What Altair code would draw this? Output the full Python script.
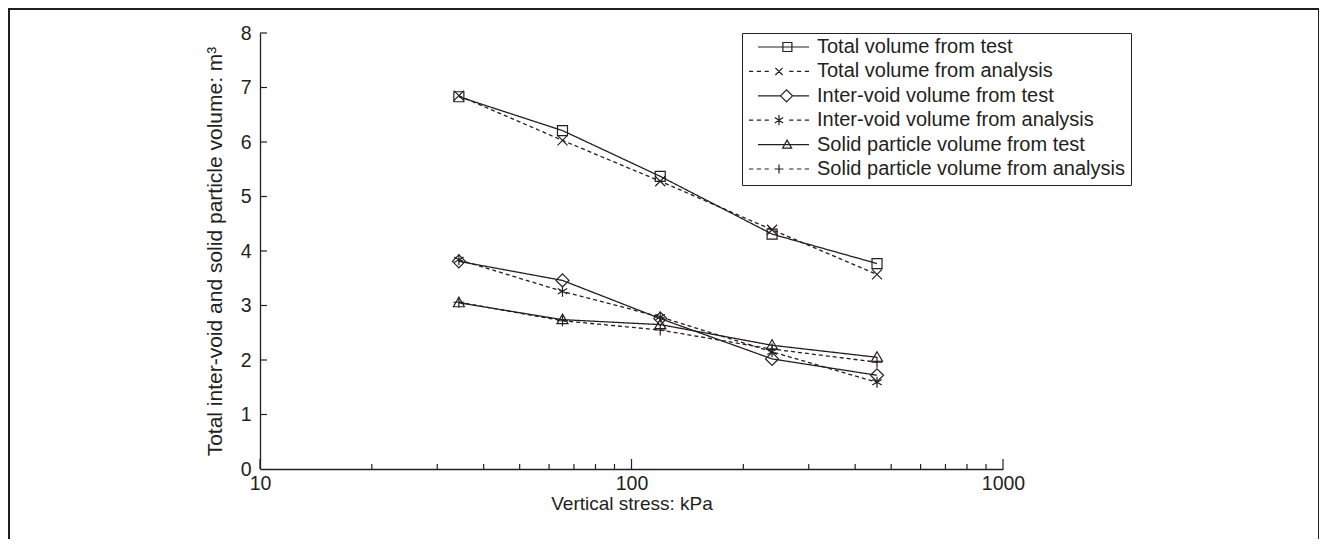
import altair as alt
import pandas as pd

# ---------------- data ----------------
stress = [34.3, 65.2, 119.5, 239, 458]
total_test = [6.83, 6.21, 5.37, 4.31, 3.77]
total_analysis = [6.85, 6.03, 5.28, 4.39, 3.57]
inter_test = [3.81, 3.46, 2.76, 2.02, 1.72]
inter_analysis = [3.84, 3.26, 2.79, 2.15, 1.59]
solid_test = [3.05, 2.74, 2.65, 2.27, 2.05]
solid_analysis = [3.06, 2.72, 2.55, 2.20, 1.96]

series_names = [
    "Total volume from test",
    "Total volume from analysis",
    "Inter-void volume from test",
    "Inter-void volume from analysis",
    "Solid particle volume from test",
    "Solid particle volume from analysis",
]
series_values = [total_test, total_analysis, inter_test, inter_analysis, solid_test, solid_analysis]

x_major_ticks = [10, 100, 1000]
x_minor_ticks = [20, 30, 40, 50, 60, 70, 80, 90, 200, 300, 400, 500, 600, 700, 800, 900]
y_ticks = [1, 2, 3, 4, 5, 6, 7, 8]
y_labels = [0, 1, 2, 3, 4, 5, 6, 7, 8]

x_title = "Vertical stress: kPa"
y_title = "Total inter-void and solid particle volume: m\u00b3"

# ---------------- styles ----------------
W, H = 743, 436
FONT = "Liberation Sans"
TXT = "#231f20"
INK = "#231f20"
FS = 19.5

solid = [1, 0]
dash = [4, 3]
dashes = [solid, dash, solid, dash, solid, dash]

# plot markers (size 100 -> 5 px per unit)
m_square = "M-1,-1H1V1H-1Z"
m_x = "M-1,-1L1,1M-1,1L1,-1"
m_diamond = "M-1.3,0L0,-1.3L1.3,0L0,1.3Z"
m_star = "M0,-1.1V1.1M-0.95,-0.55L0.95,0.55M-0.95,0.55L0.95,-0.55"
m_tri = "M0,-1.1L1.1,0.8L-1.1,0.8Z"
m_plus = "M-1.1,0H1.1M0,-1.1V1.1"
marker_paths = [m_square, m_x, m_diamond, m_star, m_tri, m_plus]

# legend symbols (size 3600 -> 30 px per unit)
solid_line = "M-0.7,0H1"
dash_line = "M-1,0H-0.86M-0.74,0H-0.6M-0.48,0H-0.34M0.34,0H0.48M0.6,0H0.74M0.86,0H1"
l_square = solid_line + "M0.13,-0.15H0.43V0.15H0.13Z"
l_x = dash_line + "M-0.12,-0.12L0.12,0.12M-0.12,0.12L0.12,-0.12"
l_diamond = "M-0.7,0H0.05M0.45,0H1M0.05,0L0.25,-0.2L0.45,0L0.25,0.2Z"
l_star = dash_line + "M0,-0.17V0.17M-0.14,-0.09L0.14,0.09M-0.14,0.09L0.14,-0.09"
l_tri = "M-0.7,0H1M0.12,0.12L0.27,-0.15L0.42,0.12Z"
l_plus = dash_line + "M-0.15,0H0.15M0,-0.15V0.15"
legend_paths = [l_square, l_x, l_diamond, l_star, l_tri, l_plus]

rows = []
for name, vals in zip(series_names, series_values):
    for s, v in zip(stress, vals):
        rows.append({"series": name, "stress": s, "volume": v})
df = pd.DataFrame(rows)

xscale = alt.Scale(type="log", domain=[10, 1000], nice=False)
yscale = alt.Scale(domain=[0, 8], nice=False, zero=False)

X = alt.X(
    "stress:Q",
    scale=xscale,
    axis=alt.Axis(
        values=x_major_ticks, format="d", title=x_title, ticks=False, tickSize=0,
        labelPadding=5, titlePadding=2, titleFontSize=19, labelFlush=False, labelOverlap=False,
        grid=False, domainColor=INK, domainWidth=1.3,
    ),
)
Y = alt.Y(
    "volume:Q",
    scale=yscale,
    axis=alt.Axis(
        values=y_labels, format="d", title=y_title, ticks=False, tickSize=0,
        labelPadding=9, titlePadding=15, titleFontSize=21, labelFlush=False, labelOverlap=False,
        grid=False, domainColor=INK, domainWidth=1.3,
    ),
)

dash_scale = alt.Scale(domain=series_names, range=dashes)
shape_scale = alt.Scale(domain=series_names, range=marker_paths)

lines = alt.Chart(df).mark_line(color=INK, strokeWidth=1.3).encode(
    x=X, y=Y,
    strokeDash=alt.StrokeDash("series:N", scale=dash_scale, legend=None),
    detail="series:N",
    order="stress:Q",
)

points = alt.Chart(df).mark_point(filled=False, color=INK, strokeWidth=1.2, size=100, opacity=1).encode(
    x=alt.X("stress:Q", scale=xscale),
    y=alt.Y("volume:Q", scale=yscale),
    shape=alt.Shape("series:N", scale=shape_scale, legend=None),
)

legend_layer = alt.Chart(df).mark_point(filled=False, color=INK, size=3600, opacity=0).encode(
    x=alt.X("stress:Q", scale=xscale),
    y=alt.Y("volume:Q", scale=yscale),
    shape=alt.Shape(
        "series:N",
        scale=alt.Scale(domain=series_names, range=legend_paths),
        legend=alt.Legend(
            title=None, orient="none", legendX=482, legendY=0,
            labelFont=FONT, labelFontSize=20, labelColor=TXT, labelLimit=500,
            labelOffset=7, symbolOffset=0,
            symbolSize=3600, symbolStrokeWidth=1.2, symbolStrokeColor=INK,
            symbolFillColor="transparent", symbolOpacity=1,
            strokeColor=INK, fillColor="white", padding=6,
            rowPadding=4.4, clipHeight=16,
        ),
    ),
)

# inward tick marks
xmaj = alt.Chart(pd.DataFrame({"t": x_major_ticks})).mark_rule(color=INK, strokeWidth=1.2).encode(
    x=alt.X("t:Q", scale=xscale), y=alt.value(H), y2=alt.value(H - 10)
)
xmin = alt.Chart(pd.DataFrame({"t": x_minor_ticks})).mark_rule(color=INK, strokeWidth=1.2).encode(
    x=alt.X("t:Q", scale=xscale), y=alt.value(H), y2=alt.value(H - 5)
)
yt = alt.Chart(pd.DataFrame({"t": y_ticks})).mark_rule(color=INK, strokeWidth=1.2).encode(
    y=alt.Y("t:Q", scale=yscale), x=alt.value(0), x2=alt.value(7)
)

frame = alt.Chart(pd.DataFrame({"a": [0]})).mark_rect(
    fill="transparent", stroke=INK, strokeWidth=2
).encode(
    x=alt.value(-251), x2=alt.value(1059), y=alt.value(-24), y2=alt.value(H + 90)
)

chart = alt.layer(frame, xmaj, xmin, yt, lines, points, legend_layer).resolve_scale(
    shape="independent"
).properties(
    width=W, height=H,
    background="white",
    padding={"left": 252, "top": 25, "right": 316, "bottom": 70},
    autosize=alt.AutoSizeParams(type="none"),
).configure_view(stroke=None).configure_axis(
    labelFont=FONT, labelFontSize=FS, labelColor=TXT,
    titleFont=FONT, titleFontSize=FS, titleColor=TXT, titleFontWeight="normal",
)

chart.save("out.html", embed_options={"renderer": "svg", "actions": False})
